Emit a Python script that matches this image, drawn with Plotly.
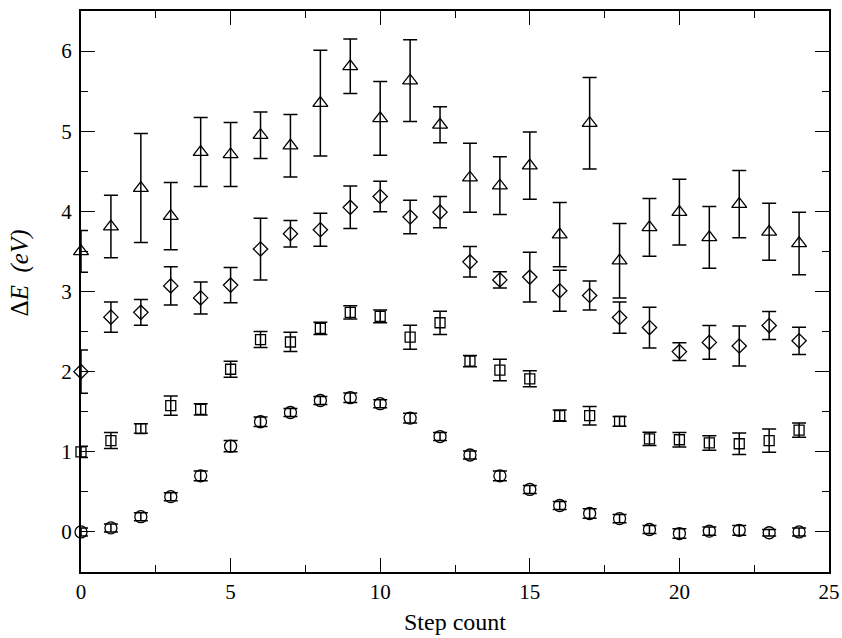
import plotly.graph_objects as go

steps = list(range(25))

circ_y = [0.00, 0.05, 0.19, 0.44, 0.70, 1.07, 1.375, 1.49, 1.64, 1.675, 1.60, 1.42, 1.19,
          0.96, 0.70, 0.53, 0.33, 0.23, 0.166, 0.03, -0.02, 0.01, 0.02, -0.01, 0.00]
circ_e = [0.05, 0.05, 0.05, 0.05, 0.06, 0.07, 0.06, 0.05, 0.05, 0.06, 0.05, 0.06, 0.05,
          0.05, 0.06, 0.05, 0.05, 0.06, 0.05, 0.05, 0.06, 0.05, 0.06, 0.04, 0.05]

sq_y = [1.00, 1.14, 1.29, 1.575, 1.53, 2.03, 2.40, 2.37, 2.54, 2.74, 2.69, 2.43, 2.61,
        2.13, 2.02, 1.91, 1.45, 1.45, 1.38, 1.16, 1.15, 1.11, 1.10, 1.14, 1.27]
sq_e = [0.07, 0.10, 0.06, 0.12, 0.07, 0.10, 0.10, 0.12, 0.077, 0.083, 0.08, 0.15, 0.145,
        0.07, 0.135, 0.10, 0.07, 0.115, 0.06, 0.083, 0.09, 0.09, 0.135, 0.145, 0.09]

dia_y = [2.00, 2.68, 2.74, 3.07, 2.92, 3.08, 3.53, 3.72, 3.77, 4.05, 4.185, 3.93, 3.99,
         3.37, 3.145, 3.18, 3.01, 2.95, 2.675, 2.55, 2.25, 2.365, 2.32, 2.575, 2.385]
dia_e = [0.27, 0.19, 0.16, 0.24, 0.20, 0.22, 0.385, 0.165, 0.205, 0.265, 0.19, 0.21, 0.195,
         0.19, 0.10, 0.31, 0.255, 0.18, 0.195, 0.255, 0.11, 0.21, 0.25, 0.175, 0.17]

tri_y = [3.50, 3.81, 4.29, 3.94, 4.74, 4.71, 4.95, 4.82, 5.35, 5.81, 5.16, 5.63, 5.08,
         4.42, 4.32, 4.57, 3.71, 5.10, 3.385, 3.80, 3.99, 3.675, 4.09, 3.745, 3.60]
tri_e = [0.26, 0.39, 0.68, 0.42, 0.43, 0.40, 0.29, 0.39, 0.66, 0.34, 0.46, 0.51, 0.225,
         0.43, 0.36, 0.42, 0.40, 0.57, 0.465, 0.36, 0.41, 0.385, 0.42, 0.355, 0.39]

x_ticks = [0, 5, 10, 15, 20, 25]
y_ticks = [0, 1, 2, 3, 4, 5, 6]

series = [
    (circ_y, circ_e, "circle-open", 12),
    (sq_y, sq_e, "square-open", 10),
    (dia_y, dia_e, "diamond-open", 11),
    (tri_y, tri_e, "triangle-up-open", 13),
]

fig = go.Figure()
for ys, es, sym, sz in series:
    fig.add_trace(go.Scatter(
        x=steps, y=ys, mode="markers",
        marker=dict(size=1, color="rgba(0,0,0,0)"),
        error_y=dict(type="data", array=es, visible=True, color="black",
                     thickness=1.5, width=7),
        cliponaxis=True, showlegend=False, hoverinfo="skip"))
for ys, es, sym, sz in series:
    fig.add_trace(go.Scatter(
        x=steps, y=ys, mode="markers",
        marker=dict(symbol=sym, size=sz, color="black", line=dict(color="black", width=1.3)),
        cliponaxis=False, showlegend=False))

tick_font = dict(family="Liberation Serif", size=21, color="black")
title_font = dict(family="Liberation Serif", size=24, color="black")

axis_common = dict(
    showline=True, linecolor="black", linewidth=2, mirror="ticks",
    ticks="inside", ticklen=14, tickwidth=1.3, tickcolor="black",
    showgrid=False, zeroline=False, tickfont=tick_font, automargin=False,
)

fig.update_xaxes(range=[0, 25], tickvals=x_ticks, ticklabelstandoff=0,
                 minor=dict(ticks="inside", ticklen=7, dtick=2.5, tickwidth=1.3,
                            tickcolor="black", showgrid=False),
                 **axis_common)
fig.update_yaxes(range=[-0.5, 6.5], tickvals=y_ticks, ticklabelstandoff=3,
                 minor=dict(ticks="inside", ticklen=7, dtick=0.5, tickwidth=1.3,
                            tickcolor="black", showgrid=False),
                 **axis_common)

fig.update_layout(
    template="none",
    width=842, height=638,
    margin=dict(l=81, r=13, t=11, b=66, autoexpand=False),
    plot_bgcolor="white", paper_bgcolor="white",
    font=tick_font,
    annotations=[
        dict(text="Step count", xref="paper", yref="paper", x=0.5, y=-0.089,
             xanchor="center", yanchor="middle", showarrow=False, font=title_font),
        dict(text="Δ<i>E</i>&nbsp; <i>(eV)</i>", xref="paper", yref="paper", x=-0.0816, y=0.534,
             xanchor="center", yanchor="middle", textangle=-90, showarrow=False,
             font=dict(family="Liberation Serif", size=25, color="black")),
    ],
)

fig.write_html("out.html", config={"displayModeBar": False},
               post_script="document.body.style.margin='0';document.body.style.padding='0';")
